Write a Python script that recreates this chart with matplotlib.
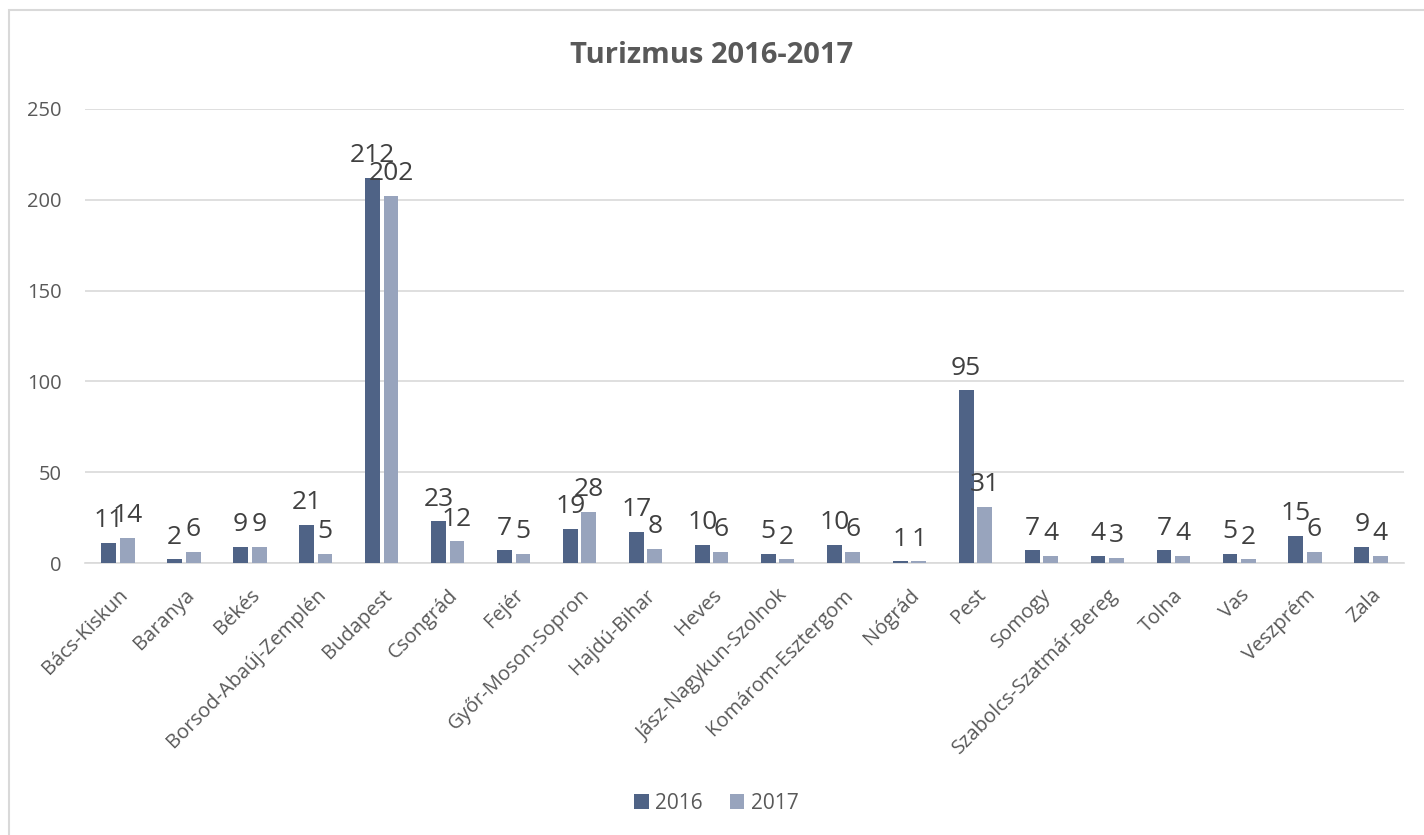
import matplotlib.pyplot as plt
import numpy as np
from matplotlib.patches import Rectangle

plt.rcParams['font.family'] = ['Open Sans', 'DejaVu Sans']

# data
counties = ['Bács-Kiskun', 'Baranya', 'Békés', 'Borsod-Abaúj-Zemplén', 'Budapest',
            'Csongrád', 'Fejér', 'Győr-Moson-Sopron', 'Hajdú-Bihar', 'Heves',
            'Jász-Nagykun-Szolnok', 'Komárom-Esztergom', 'Nógrád', 'Pest', 'Somogy',
            'Szabolcs-Szatmár-Bereg', 'Tolna', 'Vas', 'Veszprém', 'Zala']
y2016 = [11, 2, 9, 21, 212, 23, 7, 19, 17, 10, 5, 10, 1, 95, 7, 4, 7, 5, 15, 9]
y2017 = [14, 6, 9, 5, 202, 12, 5, 28, 8, 6, 2, 6, 1, 31, 4, 3, 4, 2, 6, 4]
yticks = [0, 50, 100, 150, 200, 250]

c2016 = '#4f6386'
c2017 = '#98a4bd'
grey = '#595959'

fig = plt.figure(figsize=(14.24, 8.35), dpi=100)
ax = fig.add_axes([0.0597, 0.3257, 0.9263, 0.5438])

x = np.arange(len(counties))
w = 0.225
off = 0.14
b1 = ax.bar(x - off, y2016, w, color=c2016, label='2016', zorder=3)
b2 = ax.bar(x + off, y2017, w, color=c2017, label='2017', zorder=3)

for bars in (b1, b2):
    for r in bars:
        ax.annotate(f'{int(r.get_height())}', (r.get_x() + r.get_width() / 2, r.get_height()),
                    xytext=(0, 7), textcoords='offset points', ha='center', va='bottom',
                    fontsize=19, color='#404040', zorder=4)

ax.set_xlim(-0.5, len(counties) - 0.5)
ax.set_ylim(0, 250)
ax.set_yticks(yticks)
ax.grid(axis='y', color='#d9d9d9', linewidth=1.2, zorder=0)
for s in ['top', 'right', 'left']:
    ax.spines[s].set_visible(False)
ax.spines['bottom'].set_color('#d9d9d9')
ax.spines['bottom'].set_linewidth(1.2)
ax.tick_params(length=0, labelsize=14.5, colors=grey)
ax.tick_params(axis='y', pad=17)
ax.set_xticks(x)
ax.set_xticklabels(counties, rotation=45, ha='right', rotation_mode='anchor')
ax.tick_params(axis='x', pad=16)

fig.text(0.5, 0.934, 'Turizmus 2016-2017', ha='center', va='center',
         fontsize=21, fontweight='bold', color=grey)

fig.legend(handles=[b1, b2], loc='center', bbox_to_anchor=(0.503, 0.038), ncol=2,
           frameon=False, fontsize=15, handlelength=0.7, handleheight=0.7,
           handletextpad=0.3, columnspacing=1.3, labelcolor=grey)

fig.patches.append(Rectangle((9 / 1424, -0.05), 1.0, 1 - 10 / 835 + 0.05,
                             transform=fig.transFigure, fill=False,
                             edgecolor='#d9d9d9', linewidth=1.5))

fig.savefig('out.png', dpi=100)
